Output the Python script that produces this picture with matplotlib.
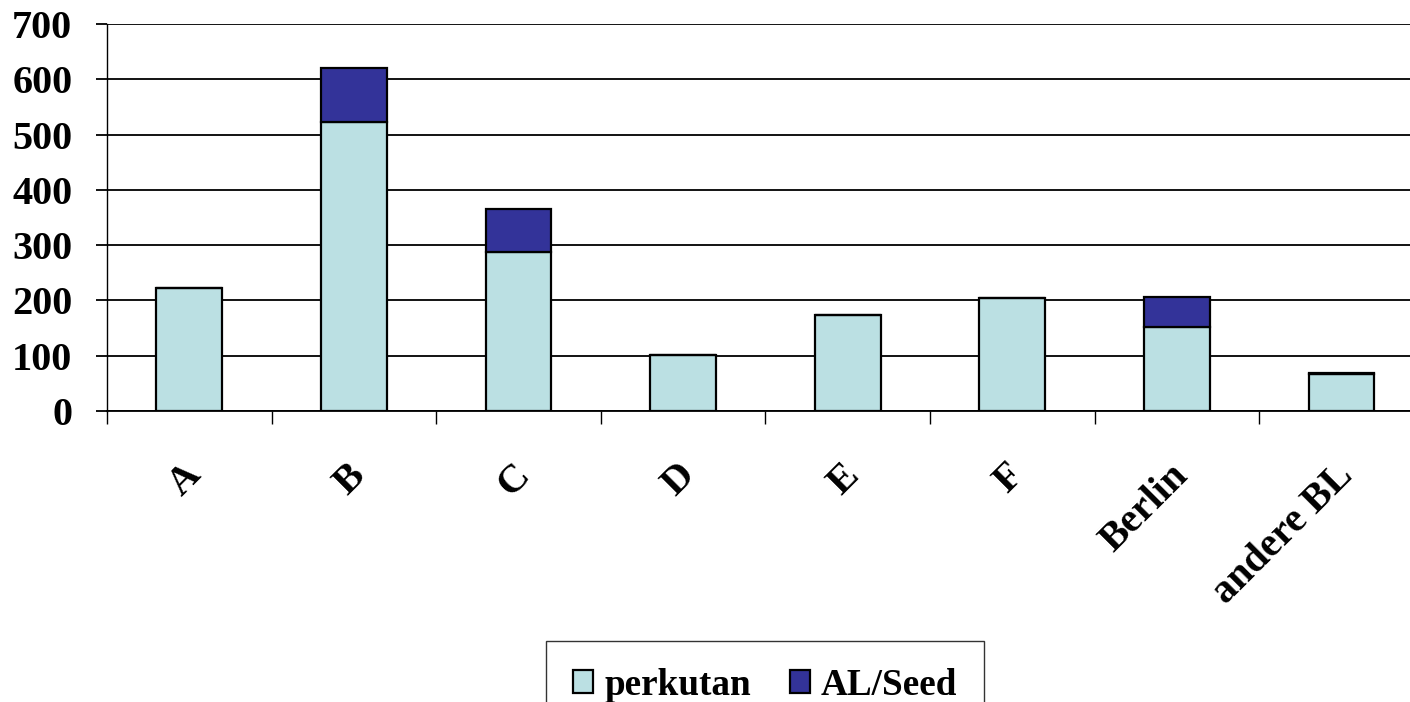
import matplotlib.pyplot as plt
import matplotlib.transforms as mtransforms
import numpy as np

categories = ["A", "B", "C", "D", "E", "F", "Berlin", "andere BL"]
perkutan = [222, 523, 288, 101, 174, 204, 152, 67]
al_seed = [0, 98, 77, 0, 0, 0, 54, 2]

plt.rcParams['font.family'] = ['Liberation Serif', 'DejaVu Serif']
plt.rcParams['font.weight'] = 'bold'

fig = plt.figure(figsize=(14.1, 7.02), dpi=100)
# axes run past the right edge of the picture, as in the original
ax = fig.add_axes([107/1410, 1 - 411/702, 8*164.6/1410, 387/702])

x = np.arange(len(categories))
ax.bar(x, perkutan, width=0.4, color='#BBE0E3', edgecolor='black', linewidth=1.6,
       label='perkutan', zorder=3)
ax.bar(x, al_seed, width=0.4, bottom=perkutan, color='#333399', edgecolor='black',
       linewidth=1.6, label='AL/Seed', zorder=3)

ax.set_xlim(-0.5, 7.5)
ax.set_ylim(0, 700)
ax.set_yticks(range(0, 701, 100))
ax.yaxis.grid(True, color='black', linewidth=1.3, zorder=0)
ax.set_axisbelow(True)
for s in ['top', 'right']:
    ax.spines[s].set_visible(False)
ax.spines['left'].set_linewidth(1.0)
ax.spines['bottom'].set_linewidth(1.3)

ax.tick_params(axis='y', length=8, width=1.3, pad=17, labelsize=29)
ax.set_xticks(x)
ax.set_xticklabels(categories, rotation=45, ha='right', va='top',
                   rotation_mode='anchor', fontsize=29)
ax.tick_params(axis='x', which='major', length=0, pad=33)
shift = mtransforms.ScaledTranslation(-7/100, 0, fig.dpi_scale_trans)
for lab in ax.get_xticklabels():
    lab.set_transform(lab.get_transform() + shift)
ax.set_xticks(np.arange(-0.5, 8, 1), minor=True)
ax.tick_params(axis='x', which='minor', length=9, width=1.0)

fig.legend(loc='upper center', bbox_to_anchor=(765/1410, 1 - 641/702),
           ncol=2, fontsize=26.7, frameon=True, fancybox=False, edgecolor='black',
           handlelength=0.55, handleheight=0.55, handletextpad=0.3,
           columnspacing=1.05, borderpad=0.72, borderaxespad=0)

plt.savefig('out.png', dpi=100)
